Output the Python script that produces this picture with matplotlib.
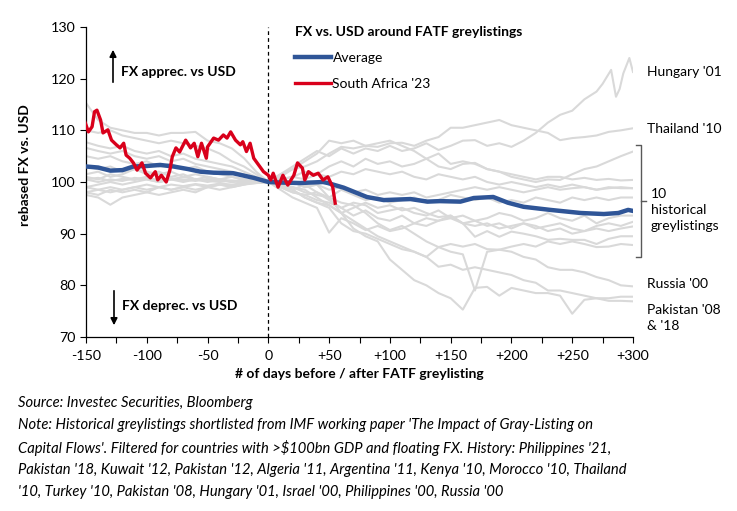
import matplotlib
matplotlib.use("Agg")
import matplotlib.pyplot as plt
from matplotlib.lines import Line2D

plt.rcParams['font.family'] = ['Lato', 'DejaVu Sans']

# grid for the historical greylistings (days around listing date)
days = list(range(-150, 301, 10))

# --- historical greylistings, rebased to 100 on day 0 ---
hungary_days = list(range(-150, 271, 10)) + [275, 282, 286, 289, 292, 297, 300]
hungary = [101.5, 102, 101, 101.5, 102.5, 102, 101.5, 102, 101, 101.5, 101, 100.5, 101, 100.5, 100, 100,
           101.5, 103, 104.5, 106, 105, 106.5, 105.5, 106.5, 106, 107, 106, 106.5, 107.5, 106.2, 107, 108,
           108.1, 107, 107.5, 106.8, 108, 109.5, 111.5, 113, 113.8, 116, 117.5,
           119, 121.7, 116.5, 118, 121, 124, 121.3]
thailand = [98, 97.5, 98.5, 98, 98.5, 98, 99, 98.5, 99, 98.5, 99, 99.5, 99, 99.5, 100, 100,
            101.5, 102.5, 104, 105.5, 108, 107.5, 108, 107, 106.8, 107.5, 107.6, 107, 108, 108.7, 110.5,
            110.5, 111, 111.5, 112, 111, 110.5, 110, 109.5, 108.1, 108.5, 108.7, 109, 109.7, 110, 110.4]
russia = [100.5, 100, 100.5, 100.2, 100.8, 100.5, 100, 100.5, 100.3, 100.6, 100.2, 100.4, 100, 100.3, 100.1, 100,
          99.5, 99, 98.5, 97, 95.5, 94, 92.5, 91, 89.5, 88.5, 87.5, 86.5, 85.5, 87.4, 86.5,
          86, 79, 86.5, 86.9, 86.5, 85.5, 85, 83.5, 83, 83, 82.5, 81.6, 81, 80, 79.8]
pakistan08 = [99, 98.5, 99, 98.5, 99, 99.5, 99, 99.5, 99.2, 99.6, 99.3, 99.7, 99.5, 99.8, 99.9, 100,
              100.5, 100, 99, 99.5, 97, 94, 91, 89.5, 88.5, 85, 83, 81, 80, 78.5, 77.5,
              75.3, 79.5, 79.7, 78, 79.5, 79, 78.5, 78.5, 78, 74.5, 77.2, 77.5, 77.5, 77.8, 77.8]
pakistan18 = [100.5, 100.8, 100.2, 100.6, 100.4, 100.9, 100.3, 100.7, 100.5, 100.2, 100.6, 100.3, 100.1, 100.4, 100.2, 100,
              99.5, 98.5, 97, 96, 95, 92, 90.5, 90, 89, 88, 87, 86.5, 85.5, 83.6, 84,
              83, 83.5, 83, 82.5, 82, 81, 80.5, 79, 79, 78.5, 78, 77.5, 77, 77, 76.9]
# the other 10 listings (bracketed on the right)
other1 = [115.3, 112, 110.5, 110, 109.5, 109.5, 109, 109.5, 109.5, 109.7, 108, 107.5, 106.5, 104.6, 102, 100,
          100.5, 101, 102, 101.5, 103, 104, 103, 104.5, 103.5, 104, 103, 103.5, 104.5, 103, 102.5,
          103.5, 103.7, 102.5, 102, 101, 100.5, 100, 100.5, 100.4, 101.5, 102.5, 103, 104, 105, 105.9]
other2 = [110, 109.5, 110, 109, 108.5, 108, 107.5, 108, 107.5, 107, 106.5, 105.5, 104, 103, 101.5, 100,
          101, 102.5, 103, 104, 105.5, 106.8, 106.5, 107, 107.5, 108, 107, 106, 104.5, 105.5, 103.5,
          104, 103.5, 102.5, 102, 101.5, 101, 100.5, 101, 101, 100.5, 100.8, 100.4, 100.6, 100.3, 100.4]
other3 = [107.7, 107, 106.5, 107, 106, 105.5, 106, 105, 105.5, 104.5, 104, 103.5, 103, 102, 101, 100,
          100.5, 101, 100.5, 101.5, 101, 102, 101.5, 102.5, 102, 101.5, 102, 101, 100.5, 101.5, 101,
          100.5, 101, 100, 99.5, 100, 99.5, 99, 99.5, 99, 99.5, 99, 98.5, 99, 98.8, 98.8]
other4 = [106.6, 106, 105.5, 106, 105, 104.5, 105, 104, 104.5, 103.5, 103, 102.5, 102, 101.5, 100.5, 100,
          99.5, 100, 99, 99.5, 98.5, 99, 98, 98.5, 97.5, 98, 97.5, 98, 97, 97.5, 98,
          98.5, 99, 98.5, 99, 98.5, 98, 98.5, 99, 98.5, 98.8, 99, 98.5, 98.8, 99, 98.8]
other5 = [105, 104.5, 105, 104, 103.5, 104, 103, 103.5, 102.5, 103, 102, 101.5, 101, 100.5, 100.2, 100,
          99, 98.5, 99.5, 98, 97, 98.5, 97.5, 96.5, 97, 96, 96.5, 97, 96, 96.5, 97.5,
          97, 96.5, 97, 96, 96.5, 96, 97, 96.5, 96, 97, 96.5, 97, 96.5, 97, 97]
other6 = [103, 102.5, 103, 102, 102.5, 101.5, 102, 101, 101.5, 100.5, 101, 100.5, 100, 100.5, 100.2, 100,
          99, 98, 97.5, 98, 96.5, 95, 96, 95.5, 94, 94.5, 95, 94, 93.5, 94.5, 93,
          93.5, 92.5, 93, 94, 93.5, 92.5, 93, 94, 93, 92.5, 93.5, 92, 93, 93.5, 93.5]
other7 = [101, 100.5, 101.5, 101, 100.5, 101, 100, 100.5, 101, 100.5, 100, 100.5, 100.2, 99.8, 100, 100,
          99.5, 98.5, 97, 96, 95.5, 94, 95, 96, 95, 95.5, 94.5, 95, 94, 93.2, 93.5,
          92, 91.5, 92, 91, 91.5, 92, 91, 91.5, 92, 91, 90.5, 91.5, 92, 91.5, 92.3]
other8 = [97.5, 97, 95.6, 97, 97.5, 98, 97.5, 98, 98.5, 98, 99, 98.5, 99, 99.5, 99.8, 100,
          98.5, 97, 96, 95, 90.2, 93, 92, 90.7, 91.5, 90.5, 91, 92, 91.5, 92.5, 93,
          92, 92.5, 91.5, 92, 91, 92, 91.5, 90.5, 91, 90, 90.5, 91, 90.5, 91, 91.4]
other9 = [98, 98.5, 98, 98.5, 99, 98.5, 99, 98.5, 99, 99.5, 99, 99.5, 99.2, 99.6, 99.8, 100,
          99, 98, 97.5, 96.5, 96, 95, 93.5, 94.5, 93, 92.5, 93.5, 92, 93, 92.5, 93.5,
          92, 89.4, 90.5, 89.4, 90.4, 90, 89.5, 88.8, 89, 88.8, 88.8, 88, 89, 89.5, 89.5]
other10 = [99, 99.5, 100, 99.5, 100, 100.5, 100, 100.5, 100, 100.5, 100.2, 100, 100.3, 100.1, 100, 100,
           99.5, 99, 98, 97.5, 97, 96, 95.5, 94, 92, 90.7, 91.5, 90, 88.5, 87.4, 88,
           87.5, 88, 87, 86.9, 87.5, 88, 87.5, 88.5, 88, 88.5, 88, 87.4, 87.5, 88, 87.8]

# --- average of the historical listings ---
avg_days = [-150, -140, -130, -120, -111, -100, -89, -78, -66, -56, -45, -29, -12, 0,
            10, 26, 45, 49, 62, 81, 95, 117, 131, 141, 158, 169, 185, 197, 210, 232,
            257, 276, 288, 296, 300]
avg_vals = [103, 102.8, 102.2, 102.3, 103, 103.1, 103.3, 103, 102.5, 102, 101.8, 101.7, 100.8, 100,
            99.9, 99.8, 100, 99.8, 98.9, 97.1, 96.5, 96.7, 96.2, 96.3, 96.2, 96.9, 97.1, 96, 95.2, 94.6,
            94, 93.8, 94, 94.6, 94.4]

# --- South Africa '23 ---
sa_days = [-151, -148, -145, -143, -141, -138, -136, -132, -129, -125, -122, -119, -117, -114, -111,
           -108, -104, -101, -97, -93, -91, -88, -84, -81, -79, -76, -73, -68, -64, -61, -58, -55,
           -51, -50, -45, -41, -37, -34, -31, -27, -23, -21, -18, -15, -12, -8, -4, 0, 2, 4, 8,
           12, 16, 21, 24, 28, 30, 33, 37, 41, 45, 49, 53, 55]
sa_vals = [111.7, 109.7, 110.7, 113.6, 113.9, 112, 109.5, 110.1, 108.1, 107.2, 106.6, 107.5, 105.2, 104.6,
           103.7, 102.3, 103.7, 101.7, 100.8, 102, 100.4, 101.3, 100, 102.3, 104.9, 106.6, 105.8, 108.1,
           106.6, 107.5, 104.9, 107.5, 104.6, 106.8, 108.5, 108.1, 109.1, 108.5, 109.7, 108.1, 107.2,
           107.8, 105.9, 107.5, 104.6, 103.3, 102, 101.3, 100.4, 101.7, 99, 101.3, 99.4, 101.3, 103.7,
           102.7, 100.4, 102, 101.3, 101.7, 100.4, 101, 99, 95.9]

grey_series = [thailand, russia, pakistan08, pakistan18, other1, other2, other3, other4,
               other5, other6, other7, other8, other9, other10]

W, H = 737, 511
fig = plt.figure(figsize=(W / 100, H / 100), dpi=100)
ax = fig.add_axes([86 / W, 1 - 337 / H, (633 - 86) / W, (337 - 27) / H])


def px(x, y):
    return x / W, 1 - y / H


grey = '#d9d9d9'
ax.plot(hungary_days, hungary, color=grey, lw=1.5, zorder=1)
for s in grey_series:
    ax.plot(days, s, color=grey, lw=1.5, zorder=1)

ax.axvline(0, color='black', lw=0.9, ls=(0, (3, 2.5)), zorder=2)
ax.plot(avg_days, avg_vals, color='#2f5597', lw=3.2, label='Average', zorder=3)
ax.plot(sa_days, sa_vals, color='#d9001b', lw=2.4, label="South Africa '23", zorder=4)

ax.set_xlim(-150, 300)
ax.set_ylim(70, 130)
ax.set_yticks(range(70, 131, 10))
ax.set_xticks(range(-150, 301, 50))
ax.set_xticks(range(-150, 301, 25), minor=True)
ax.set_xticklabels([str(v) if v <= 0 else '+' + str(v) for v in range(-150, 301, 50)])
ax.tick_params(axis='both', labelsize=10.3, direction='out', length=4, width=0.8, colors='black')
ax.tick_params(axis='x', which='minor', length=4, width=0.8)
ax.tick_params(axis='x', pad=5)
for side in ['top', 'right']:
    ax.spines[side].set_visible(False)
for side in ['left', 'bottom']:
    ax.spines[side].set_linewidth(0.9)

ax.set_xlabel('# of days before / after FATF greylisting', fontsize=10, fontweight='bold', labelpad=5)
ax.set_ylabel('rebased FX vs. USD', fontsize=10, fontweight='bold')
ax.yaxis.set_label_coords(-0.1, 0.555)

leg = ax.legend(loc='upper left', bbox_to_anchor=px(295, 26), bbox_transform=fig.transFigure,
                frameon=False, fontsize=10, handlelength=2.6, handletextpad=0.1,
                labelspacing=1.0, borderpad=0, borderaxespad=0,
                title='FX vs. USD around FATF greylistings', alignment='left',
                title_fontproperties={'weight': 'bold', 'size': 10})

# up / down annotations
ax.annotate('', xy=px(113, 47), xytext=px(113, 85), xycoords='figure fraction',
            textcoords='figure fraction',
            arrowprops=dict(arrowstyle='-|>', color='black', lw=1.2, mutation_scale=10))
ax.annotate('', xy=px(114, 328), xytext=px(114, 288), xycoords='figure fraction',
            textcoords='figure fraction',
            arrowprops=dict(arrowstyle='-|>', color='black', lw=1.2, mutation_scale=10))
fig.text(*px(121, 72), 'FX apprec. vs USD', fontsize=10, fontweight='bold', va='center')
fig.text(*px(122, 306), 'FX deprec. vs USD', fontsize=10, fontweight='bold', va='center')

# labels on the right
fig.text(*px(647, 72), "Hungary '01", fontsize=10, va='center')
fig.text(*px(647, 129), "Thailand '10", fontsize=10, va='center')
fig.text(*px(651, 210), "10\nhistorical\ngreylistings", fontsize=10, va='center', linespacing=1.45)
fig.text(*px(647, 284), "Russia '00", fontsize=10, va='center')
fig.text(*px(647, 318), "Pakistan '08\n& '18", fontsize=10, va='center', linespacing=1.4)

bx = [636, 641, 641, 636]
by = [145, 145, 257, 257]
fig.add_artist(Line2D([x / W for x in bx], [1 - y / H for y in by], color='#595959', lw=1))
fig.add_artist(Line2D([641 / W, 646 / W], [1 - 201 / H, 1 - 201 / H], color='#595959', lw=1))

# footnotes
notes = ["Source: Investec Securities, Bloomberg",
         "Note: Historical greylistings shortlisted from IMF working paper 'The Impact of Gray-Listing on",
         "Capital Flows'. Filtered for countries with >$100bn GDP and floating FX. History: Philippines '21,",
         "Pakistan '18, Kuwait '12, Pakistan '12, Algeria '11, Argentina '11, Kenya '10, Morocco '10, Thailand",
         "'10, Turkey '10, Pakistan '08, Hungary '01, Israel '00, Philippines '00, Russia '00"]
for i, line in enumerate(notes):
    fig.text(*px(18, 403 + i * 22.3), line, fontsize=10.6, style='italic', va='center')

fig.savefig('out.png', dpi=100)
